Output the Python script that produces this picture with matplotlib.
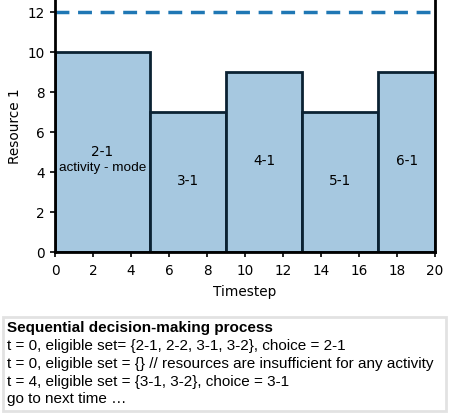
import numpy as np
import matplotlib
matplotlib.use("Agg")
import matplotlib.pyplot as plt
from matplotlib.patches import FancyBboxPatch

# activity blocks: start, duration, resource usage, label, label height
starts = [0, 5, 9, 13, 17]
durations = [5, 4, 4, 4, 3]
usage = [10, 7, 9, 7, 9]
labels = ["2-1", "3-1", "4-1", "5-1", "6-1"]
label_y = [5.0, 3.55, 4.55, 3.55, 4.55]
capacity = 12

xticks = np.arange(0, 21, 2)
yticks = np.arange(0, 13, 2)

process_title = "Sequential decision-making process"
process_lines = [
    "t = 0, eligible set= {2-1, 2-2, 3-1, 3-2}, choice = 2-1",
    "t = 0, eligible set = {} // resources are insufficient for any activity",
    "t = 4, eligible set = {3-1, 3-2}, choice = 3-1",
    "go to next time \u2026",
]

fig = plt.figure(figsize=(4.49, 4.16), dpi=100)
ax = fig.add_axes([0.1225, 0.394, 0.8465, 0.606])

ax.bar(starts, usage, width=durations, align="edge", color="#a6c8e0",
       edgecolor="#0b2233", linewidth=2)
ax.axhline(capacity, color="#1f77b4", linestyle="--", linewidth=2.5,
           dashes=(4, 2.5))

for s, d, lab, ly in zip(starts, durations, labels, label_y):
    ax.text(s + d / 2, ly, lab, ha="center", va="center", fontsize=9.8)
ax.text(starts[0] + durations[0] / 2, 4.2, "activity - mode", ha="center",
        va="center", fontsize=9.7, family="Liberation Sans")

ax.set_xlim(0, 20)
ax.set_ylim(0, 12.6)
ax.set_xticks(xticks)
ax.set_yticks(yticks)
ax.tick_params(labelsize=9.8, width=1.2, length=3.8)
ax.tick_params(axis="x", pad=5)
ax.set_xlabel("Timestep", fontsize=9.8, labelpad=5)
ax.set_ylabel("Resource 1", fontsize=9.8)
ax.spines["top"].set_visible(False)
for side in ["left", "bottom", "right"]:
    ax.spines[side].set_linewidth(2)

# text box with the decision process
box = FancyBboxPatch((3 / 449, 5 / 416), 443 / 449, 94 / 416,
                     boxstyle="square,pad=0", transform=fig.transFigure,
                     facecolor="white", edgecolor="#e2e2e2", linewidth=2)
fig.patches.append(box)
fig.text(7 / 449, 1 - 328 / 416, process_title, fontsize=11,
         fontweight="bold", family="Liberation Sans", va="center")
for i, line in enumerate(process_lines):
    fig.text(7 / 449, 1 - (346 + 17.8 * i) / 416, line, fontsize=11,
             family="Liberation Sans", va="center")

fig.savefig("out.png", dpi=100)
